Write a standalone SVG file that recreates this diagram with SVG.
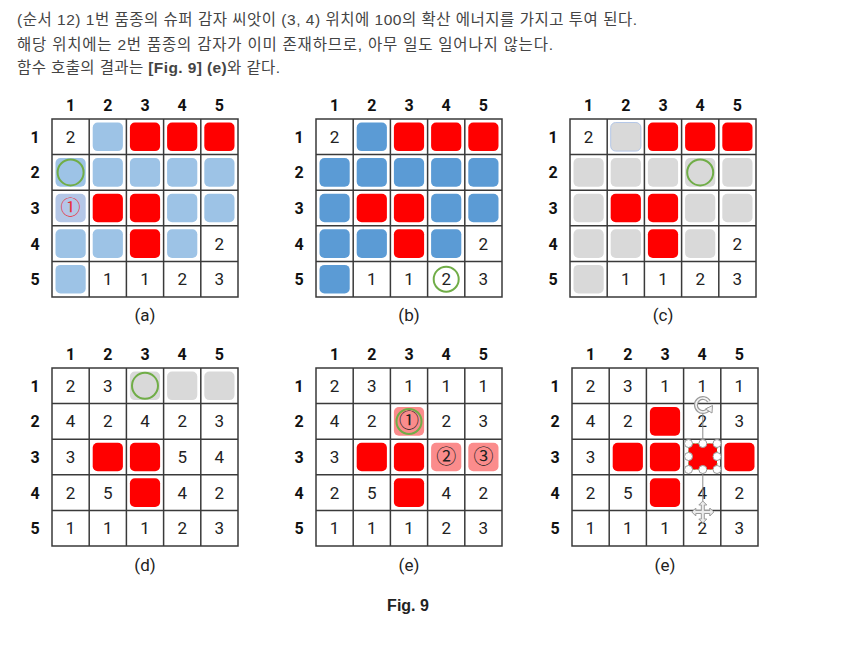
<svg xmlns="http://www.w3.org/2000/svg" xmlns:xlink="http://www.w3.org/1999/xlink" width="859" height="653" viewBox="0 0 859 653">
<style>
.bg{fill:#fff}
.top{font-family:"Liberation Sans","Noto Sans CJK KR",sans-serif;font-size:15.5px;fill:#444}
.g{fill:none;stroke:#3a3a3a;stroke-width:1.5}
.lb{fill:#9dc3e6}
.lv{fill:#b4c7e7}
.bl{fill:#5b9bd5}
.gr{fill:#d9d9d9}
.grb{fill:#d9d9d9;stroke:#b4c7e7;stroke-width:1}
.rd{fill:#ff0000}
.pk{fill:#fb8c8c}
.n{font-family:Roboto,"DejaVu Sans",sans-serif;font-size:17px;text-anchor:middle;fill:#222}
.h{font-family:Roboto,"DejaVu Sans",sans-serif;font-size:16px;font-weight:bold;text-anchor:middle;fill:#111}
.ci{font-family:"Noto Sans CJK KR",sans-serif;font-size:20px;text-anchor:middle;fill:#222}
.cr{fill:#e8303a}
.gc{fill:none;stroke:#70ad47;stroke-width:2}
.fig{font-family:"Liberation Sans",sans-serif;font-size:16px;font-weight:bold;text-anchor:middle;fill:#222}
.hd{fill:#fff;stroke:#9a9a9a;stroke-width:1}
</style>
<defs>
<rect id="c" width="30.2" height="28.6" rx="5"/>
<path id="grid" d="M0,0H186V178H0Z M37.2,0V178 M74.4,0V178 M111.6,0V178 M148.8,0V178 M0,35.6H186 M0,71.2H186 M0,106.8H186 M0,142.4H186"/>
<g id="labels">
<text class="h" x="18.6" y="-8">1</text><text class="h" x="55.8" y="-8">2</text><text class="h" x="93" y="-8">3</text><text class="h" x="130.2" y="-8">4</text><text class="h" x="167.4" y="-8">5</text>
<text class="h" x="-17" y="23.8">1</text><text class="h" x="-17" y="59.4">2</text><text class="h" x="-17" y="95">3</text><text class="h" x="-17" y="130.6">4</text><text class="h" x="-17" y="166.2">5</text>
</g>
</defs>
<rect class="bg" width="859" height="653"/>
<g id="intro">
<text class="top" x="17" y="25" textLength="620" lengthAdjust="spacing">(순서 12) 1번 품종의 슈퍼 감자 씨앗이 (3, 4) 위치에 100의 확산 에너지를 가지고 투여 된다.</text>
<text class="top" x="17" y="50" textLength="536" lengthAdjust="spacing">해당 위치에는 2번 품종의 감자가 이미 존재하므로, 아무 일도 일어나지 않는다.</text>
<text class="top" x="17" y="73" textLength="263" lengthAdjust="spacing">함수 호출의 결과는 <tspan font-weight="bold">[Fig. 9] (e)</tspan>와 같다.</text>
</g>

<g id="panel-a" transform="translate(52,119)">
<use href="#c" x="40.7" y="3.5" class="lb"/><use href="#c" x="77.9" y="3.5" class="rd"/><use href="#c" x="115.1" y="3.5" class="rd"/><use href="#c" x="152.3" y="3.5" class="rd"/>
<use href="#c" x="3.5" y="39.1" class="lb"/><use href="#c" x="40.7" y="39.1" class="lb"/><use href="#c" x="77.9" y="39.1" class="lb"/><use href="#c" x="115.1" y="39.1" class="lb"/><use href="#c" x="152.3" y="39.1" class="lb"/>
<use href="#c" x="3.5" y="74.7" class="lv"/><use href="#c" x="40.7" y="74.7" class="rd"/><use href="#c" x="77.9" y="74.7" class="rd"/><use href="#c" x="115.1" y="74.7" class="lb"/><use href="#c" x="152.3" y="74.7" class="lb"/>
<use href="#c" x="3.5" y="110.3" class="lb"/><use href="#c" x="40.7" y="110.3" class="lb"/><use href="#c" x="77.9" y="110.3" class="rd"/><use href="#c" x="115.1" y="110.3" class="lb"/>
<use href="#c" x="3.5" y="145.9" class="lb"/>
<use href="#grid" class="g"/>
<text class="n" x="18.6" y="23.8">2</text><text class="n" x="167.4" y="130.6">2</text>
<text class="n" x="55.8" y="166.2">1</text><text class="n" x="93" y="166.2">1</text><text class="n" x="130.2" y="166.2">2</text><text class="n" x="167.4" y="166.2">3</text>
<text class="ci cr" x="18.6" y="96">①</text>
<circle class="gc" cx="18.6" cy="53.4" r="13"/>
<use href="#labels"/>
<text class="n" x="93" y="202">(a)</text>
</g>

<g id="panel-b" transform="translate(316,119)">
<use href="#c" x="40.7" y="3.5" class="bl"/><use href="#c" x="77.9" y="3.5" class="rd"/><use href="#c" x="115.1" y="3.5" class="rd"/><use href="#c" x="152.3" y="3.5" class="rd"/>
<use href="#c" x="3.5" y="39.1" class="bl"/><use href="#c" x="40.7" y="39.1" class="bl"/><use href="#c" x="77.9" y="39.1" class="bl"/><use href="#c" x="115.1" y="39.1" class="bl"/><use href="#c" x="152.3" y="39.1" class="bl"/>
<use href="#c" x="3.5" y="74.7" class="bl"/><use href="#c" x="40.7" y="74.7" class="rd"/><use href="#c" x="77.9" y="74.7" class="rd"/><use href="#c" x="115.1" y="74.7" class="bl"/><use href="#c" x="152.3" y="74.7" class="bl"/>
<use href="#c" x="3.5" y="110.3" class="bl"/><use href="#c" x="40.7" y="110.3" class="bl"/><use href="#c" x="77.9" y="110.3" class="rd"/><use href="#c" x="115.1" y="110.3" class="bl"/>
<use href="#c" x="3.5" y="145.9" class="bl"/>
<use href="#grid" class="g"/>
<text class="n" x="18.6" y="23.8">2</text><text class="n" x="167.4" y="130.6">2</text>
<text class="n" x="55.8" y="166.2">1</text><text class="n" x="93" y="166.2">1</text><text class="n" x="130.2" y="166.2">2</text><text class="n" x="167.4" y="166.2">3</text>
<circle class="gc" cx="130.2" cy="160.2" r="12.5"/>
<use href="#labels"/>
<text class="n" x="93" y="202">(b)</text>
</g>

<g id="panel-c" transform="translate(570,119)">
<use href="#c" x="40.7" y="3.5" class="grb"/><use href="#c" x="77.9" y="3.5" class="rd"/><use href="#c" x="115.1" y="3.5" class="rd"/><use href="#c" x="152.3" y="3.5" class="rd"/>
<use href="#c" x="3.5" y="39.1" class="gr"/><use href="#c" x="40.7" y="39.1" class="gr"/><use href="#c" x="77.9" y="39.1" class="gr"/><use href="#c" x="115.1" y="39.1" class="gr"/><use href="#c" x="152.3" y="39.1" class="gr"/>
<use href="#c" x="3.5" y="74.7" class="gr"/><use href="#c" x="40.7" y="74.7" class="rd"/><use href="#c" x="77.9" y="74.7" class="rd"/><use href="#c" x="115.1" y="74.7" class="gr"/><use href="#c" x="152.3" y="74.7" class="gr"/>
<use href="#c" x="3.5" y="110.3" class="gr"/><use href="#c" x="40.7" y="110.3" class="gr"/><use href="#c" x="77.9" y="110.3" class="rd"/><use href="#c" x="115.1" y="110.3" class="gr"/>
<use href="#c" x="3.5" y="145.9" class="gr"/>
<use href="#grid" class="g"/>
<text class="n" x="18.6" y="23.8">2</text><text class="n" x="167.4" y="130.6">2</text>
<text class="n" x="55.8" y="166.2">1</text><text class="n" x="93" y="166.2">1</text><text class="n" x="130.2" y="166.2">2</text><text class="n" x="167.4" y="166.2">3</text>
<circle class="gc" cx="130.2" cy="53.4" r="13"/>
<use href="#labels"/>
<text class="n" x="93" y="202">(c)</text>
</g>

<g id="panel-d" transform="translate(52,368)">
<use href="#c" x="77.9" y="3.5" class="gr"/><use href="#c" x="115.1" y="3.5" class="gr"/><use href="#c" x="152.3" y="3.5" class="gr"/>
<use href="#c" x="40.7" y="74.7" class="rd"/><use href="#c" x="77.9" y="74.7" class="rd"/>
<use href="#c" x="77.9" y="110.3" class="rd"/>
<use href="#grid" class="g"/>
<text class="n" x="18.6" y="23.8">2</text><text class="n" x="55.8" y="23.8">3</text>
<text class="n" x="18.6" y="59.4">4</text><text class="n" x="55.8" y="59.4">2</text><text class="n" x="93" y="59.4">4</text><text class="n" x="130.2" y="59.4">2</text><text class="n" x="167.4" y="59.4">3</text>
<text class="n" x="18.6" y="95">3</text><text class="n" x="130.2" y="95">5</text><text class="n" x="167.4" y="95">4</text>
<text class="n" x="18.6" y="130.6">2</text><text class="n" x="55.8" y="130.6">5</text><text class="n" x="130.2" y="130.6">4</text><text class="n" x="167.4" y="130.6">2</text>
<text class="n" x="18.6" y="166.2">1</text><text class="n" x="55.8" y="166.2">1</text><text class="n" x="93" y="166.2">1</text><text class="n" x="130.2" y="166.2">2</text><text class="n" x="167.4" y="166.2">3</text>
<circle class="gc" cx="93" cy="17.8" r="13"/>
<use href="#labels"/>
<text class="n" x="93" y="203">(d)</text>
</g>

<g id="panel-e" transform="translate(316,368)">
<use href="#c" x="77.9" y="39.1" class="pk"/>
<use href="#c" x="40.7" y="74.7" class="rd"/><use href="#c" x="77.9" y="74.7" class="rd"/><use href="#c" x="115.1" y="74.7" class="pk"/><use href="#c" x="152.3" y="74.7" class="pk"/>
<use href="#c" x="77.9" y="110.3" class="rd"/>
<use href="#grid" class="g"/>
<text class="n" x="18.6" y="23.8">2</text><text class="n" x="55.8" y="23.8">3</text><text class="n" x="93" y="23.8">1</text><text class="n" x="130.2" y="23.8">1</text><text class="n" x="167.4" y="23.8">1</text>
<text class="n" x="18.6" y="59.4">4</text><text class="n" x="55.8" y="59.4">2</text><text class="ci" x="93" y="60.4">①</text><text class="n" x="130.2" y="59.4">2</text><text class="n" x="167.4" y="59.4">3</text>
<text class="n" x="18.6" y="95">3</text><text class="ci" x="130.2" y="96">②</text><text class="ci" x="167.4" y="96">③</text>
<text class="n" x="18.6" y="130.6">2</text><text class="n" x="55.8" y="130.6">5</text><text class="n" x="130.2" y="130.6">4</text><text class="n" x="167.4" y="130.6">2</text>
<text class="n" x="18.6" y="166.2">1</text><text class="n" x="55.8" y="166.2">1</text><text class="n" x="93" y="166.2">1</text><text class="n" x="130.2" y="166.2">2</text><text class="n" x="167.4" y="166.2">3</text>
<circle class="gc" cx="93" cy="53.4" r="12.5"/>
<use href="#labels"/>
<text class="n" x="93" y="203">(e)</text>
</g>

<g id="panel-f" transform="translate(572,368)">
<use href="#c" x="77.9" y="39.1" class="rd"/>
<use href="#c" x="40.7" y="74.7" class="rd"/><use href="#c" x="77.9" y="74.7" class="rd"/><use href="#c" x="152.3" y="74.7" class="rd"/>
<use href="#c" x="77.9" y="110.3" class="rd"/>
<use href="#grid" class="g"/>
<text class="n" x="18.6" y="23.8">2</text><text class="n" x="55.8" y="23.8">3</text><text class="n" x="93" y="23.8">1</text><text class="n" x="130.2" y="23.8">1</text><text class="n" x="167.4" y="23.8">1</text>
<text class="n" x="18.6" y="59.4">4</text><text class="n" x="55.8" y="59.4">2</text><text class="n" x="130.2" y="59.4">2</text><text class="n" x="167.4" y="59.4">3</text>
<text class="n" x="18.6" y="95">3</text>
<text class="n" x="18.6" y="130.6">2</text><text class="n" x="55.8" y="130.6">5</text><text class="n" x="130.2" y="130.6">4</text><text class="n" x="167.4" y="130.6">2</text>
<text class="n" x="18.6" y="166.2">1</text><text class="n" x="55.8" y="166.2">1</text><text class="n" x="93" y="166.2">1</text><text class="n" x="130.2" y="166.2">2</text><text class="n" x="167.4" y="166.2">3</text>
<use href="#labels"/>
<text class="n" x="93" y="203">(e)</text>
<g id="selection">
<line x1="130.8" y1="45" x2="130.8" y2="75" stroke="#8a8a8a" stroke-width="1"/>
<line x1="130.8" y1="102" x2="130.8" y2="133" stroke="#8a8a8a" stroke-width="1"/>
<rect x="116.5" y="75.5" width="28.5" height="26" rx="4" class="rd"/>
<rect x="116.5" y="75.5" width="28.5" height="26" fill="none" stroke="#70ad47" stroke-width="0.8" stroke-dasharray="2 2"/>
<circle class="hd" cx="116.5" cy="75.5" r="4"/><circle class="hd" cx="130.8" cy="75.5" r="4"/><circle class="hd" cx="145" cy="75.5" r="4"/>
<circle class="hd" cx="116.5" cy="88.5" r="4"/><circle class="hd" cx="145" cy="88.5" r="4"/>
<circle class="hd" cx="116.5" cy="101.5" r="4"/><circle class="hd" cx="130.8" cy="101.5" r="4"/><circle class="hd" cx="145" cy="101.5" r="4"/>
<path d="M137,40.5 A7,7 0 1 1 137,33.5" fill="none" stroke="#9a9a9a" stroke-width="4"/>
<path d="M137,40.5 A7,7 0 1 1 137,33.5" fill="none" stroke="#f4f4f4" stroke-width="1.6"/>
<path d="M133.5,41 L140.5,37.5 L140,45 Z" fill="#f4f4f4" stroke="#9a9a9a" stroke-width="1"/>
<path transform="translate(130.8,144)" d="M0,-11 L4,-7 L1.5,-7 L1.5,-1.5 L7,-1.5 L7,-4 L11,0 L7,4 L7,1.5 L1.5,1.5 L1.5,7 L4,7 L0,11 L-4,7 L-1.5,7 L-1.5,1.5 L-7,1.5 L-7,4 L-11,0 L-7,-4 L-7,-1.5 L-1.5,-1.5 L-1.5,-7 L-4,-7 Z" fill="#ececec" stroke="#9a9a9a" stroke-width="1"/>
</g>
</g>

<text class="fig" x="408" y="611">Fig. 9</text>
</svg>
